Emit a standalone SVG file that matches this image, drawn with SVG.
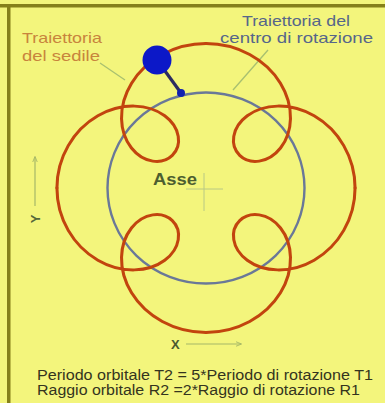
<svg xmlns="http://www.w3.org/2000/svg" xmlns:xlink="http://www.w3.org/1999/xlink" width="385" height="403" viewBox="0 0 385 403">
<style>
.lbl{font-family:"Liberation Sans",Arial,sans-serif}
.red{fill:none;stroke:#c2440e;stroke-width:3;stroke-linecap:round}
.axis{stroke:#a6b868;stroke-width:1.2;fill:none}
.lead{stroke:#a8c070;stroke-width:1.3}
</style>
<defs>
<path id="quad" d="M147,0 C147,15.14 143.03,30.25 135.84,43.10 C128.65,55.95 118.27,66.49 106.64,73.40 C95.01,80.31 82.18,83.57 70.48,83.31 C58.78,83.05 48.27,79.28 40.70,73.5 C33.13,67.72 28.53,59.98 27.38,52.52 C26.23,45.06 28.51,37.95 33.23,33.23 C37.95,28.51 45.06,26.23 52.52,27.38 C59.98,28.53 67.72,33.13 73.5,40.70 C79.28,48.27 83.05,58.78 83.31,70.48 C83.57,82.18 80.31,95.01 73.40,106.64 C66.49,118.27 55.95,128.65 43.10,135.84 C30.25,143.03 15.14,147 0,147"/>
<marker id="ah" viewBox="0 0 10 10" refX="9" refY="5" markerWidth="5" markerHeight="5" orient="auto">
<path d="M0,1 L10,5 L0,9" fill="none" stroke="#a6b868" stroke-width="1.5"/>
</marker>
</defs>
<rect x="0" y="0" width="385" height="403" fill="#f3f57c"/>
<rect x="0" y="4" width="385" height="3.5" fill="#85801a"/>
<rect x="7" y="4" width="3.5" height="399" fill="#85801a"/>

<g id="connectors">
<line class="lead" x1="100" y1="63" x2="125" y2="80"/>
<line class="lead" x1="268" y1="50" x2="233" y2="90"/>
<line class="axis" x1="35" y1="206" x2="35" y2="157" marker-end="url(#ah)"/>
<line class="axis" x1="186" y1="344" x2="241" y2="344" marker-end="url(#ah)"/>
<line x1="157" y1="60" x2="181" y2="93" stroke="#2c2c60" stroke-width="3.2"/>
</g>

<g id="orbit">
<ellipse cx="206" cy="188" rx="98.5" ry="95.5" fill="none" stroke="#6a7898" stroke-width="2.4"/>
</g>

<g id="seat-path" transform="translate(206,188) scale(1.014,0.983)">
<use xlink:href="#quad" href="#quad" class="red"/>
<use xlink:href="#quad" href="#quad" class="red" transform="rotate(90)"/>
<use xlink:href="#quad" href="#quad" class="red" transform="rotate(180)"/>
<use xlink:href="#quad" href="#quad" class="red" transform="rotate(270)"/>
</g>

<g id="axis-center">
<line x1="186" y1="189" x2="223" y2="189" stroke="#b8c884" stroke-width="1"/>
<line x1="204" y1="173" x2="204" y2="211" stroke="#b8c884" stroke-width="1"/>
<text class="lbl" x="153" y="185" font-size="17" font-weight="bold" fill="#4d5e30" textLength="44" lengthAdjust="spacingAndGlyphs">Asse</text>
</g>

<g id="seat">
<circle cx="157" cy="60" r="14.5" fill="#0c18c8"/>
<circle cx="181" cy="93" r="4" fill="#1020b0"/>
</g>

<g id="label-seat">
<text class="lbl" font-size="15" fill="#c8843c"><tspan x="22" y="43" textLength="80" lengthAdjust="spacingAndGlyphs">Traiettoria</tspan><tspan x="22" y="61" textLength="78" lengthAdjust="spacingAndGlyphs">del sedile</tspan></text>
</g>

<g id="label-center">
<text class="lbl" font-size="15" fill="#56668a"><tspan x="242" y="26" textLength="108" lengthAdjust="spacingAndGlyphs">Traiettoria del</tspan><tspan x="220" y="43" textLength="153" lengthAdjust="spacingAndGlyphs">centro di rotazione</tspan></text>
</g>

<g id="axis-y">
<text class="lbl" x="0" y="0" font-size="13" font-weight="bold" fill="#55683a" transform="translate(40,219) rotate(-90)" text-anchor="middle">Y</text>
</g>
<g id="axis-x">
<text class="lbl" x="171" y="349" font-size="13" font-weight="bold" fill="#4a5830">X</text>
</g>

<g id="caption">
<text class="lbl" font-size="14" fill="#34341e"><tspan x="37" y="380" textLength="336" lengthAdjust="spacingAndGlyphs">Periodo orbitale T2 = 5*Periodo di rotazione T1</tspan><tspan x="37" y="395" textLength="323" lengthAdjust="spacingAndGlyphs">Raggio orbitale R2 =2*Raggio di rotazione R1</tspan></text>
</g>
</svg>
